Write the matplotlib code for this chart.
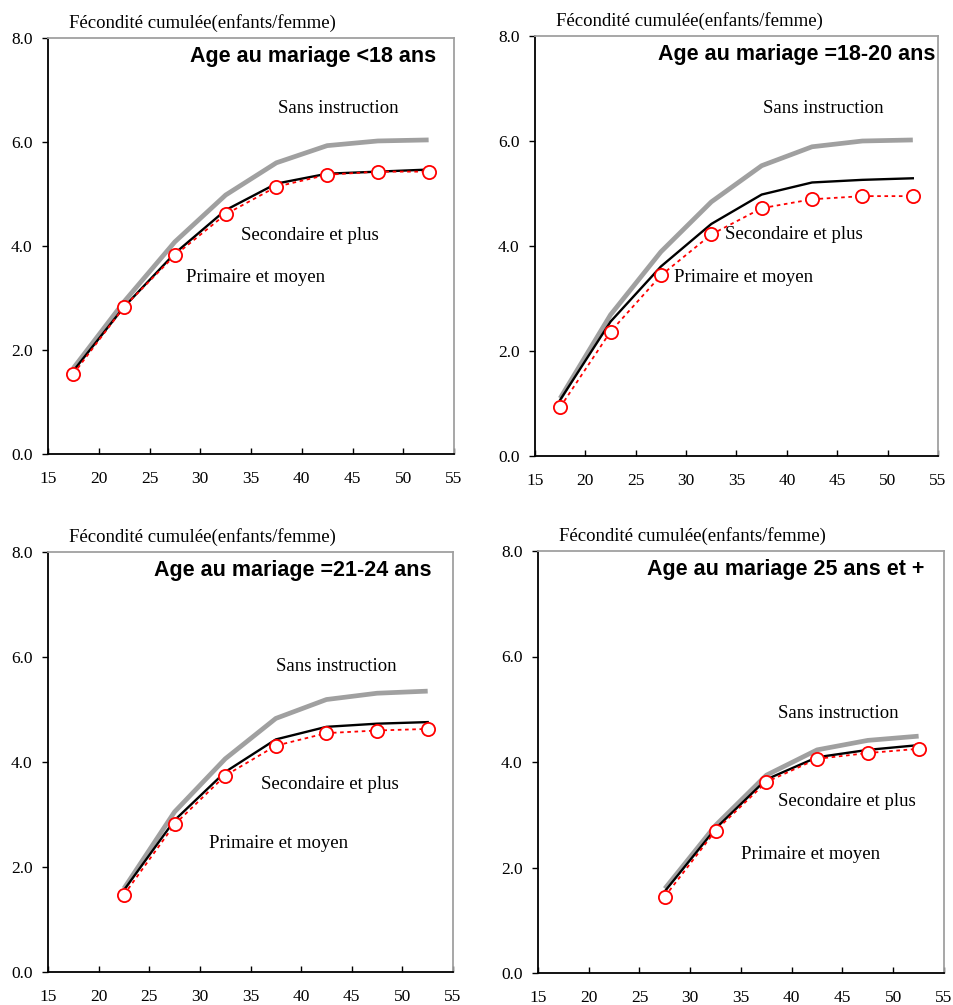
import matplotlib
matplotlib.use('Agg')
import matplotlib.pyplot as plt

# groupes d'age (centres des intervalles quinquennaux)
ages_18 = [17.5, 22.5, 27.5, 32.5, 37.5, 42.5, 47.5, 52.5]
ages_21 = [22.5, 27.5, 32.5, 37.5, 42.5, 47.5, 52.5]
ages_25 = [27.5, 32.5, 37.5, 42.5, 47.5, 52.5]

# Age au mariage <18 ans
sans_lt18 = [1.65, 2.93, 4.08, 4.98, 5.60, 5.93, 6.02, 6.04]
prim_lt18 = [1.60, 2.83, 3.86, 4.69, 5.20, 5.39, 5.43, 5.47]
sec_lt18 = [1.54, 2.83, 3.82, 4.61, 5.14, 5.37, 5.43, 5.43]

# Age au mariage =18-20 ans
sans_18_20 = [1.10, 2.69, 3.89, 4.84, 5.53, 5.89, 6.00, 6.02]
prim_18_20 = [1.07, 2.56, 3.61, 4.42, 4.98, 5.21, 5.26, 5.29]
sec_18_20 = [0.93, 2.37, 3.44, 4.22, 4.72, 4.89, 4.95, 4.95]

# Age au mariage =21-24 ans
sans_21_24 = [1.59, 3.05, 4.06, 4.83, 5.19, 5.31, 5.35]
prim_21_24 = [1.56, 2.89, 3.81, 4.43, 4.67, 4.73, 4.76]
sec_21_24 = [1.47, 2.81, 3.74, 4.31, 4.55, 4.60, 4.63]

# Age au mariage 25 ans et +
sans_25p = [1.60, 2.80, 3.75, 4.23, 4.41, 4.49]
prim_25p = [1.55, 2.74, 3.67, 4.09, 4.23, 4.32]
sec_25p = [1.45, 2.70, 3.62, 4.06, 4.17, 4.25]

titles = ['Age au mariage <18 ans', 'Age au mariage =18-20 ans',
          'Age au mariage =21-24 ans', 'Age au mariage 25 ans et +']
ylabel = 'Fécondité cumulée(enfants/femme)'

SERIF = 'Liberation Serif'
SANS = 'Liberation Sans'
GRAY = '#a0a0a0'


def draw_panel(ax, ages, sans, prim, sec, title, title_x, lbl_pos):
    ax.plot(ages, sans, color=GRAY, linewidth=3.4, solid_capstyle='butt', zorder=2)
    ax.plot(ages, prim, color='black', linewidth=1.7, zorder=3)
    ax.plot(ages, sec, color='red', linewidth=1.3, linestyle=(0, (2, 2)),
            marker='o', markersize=9.5, markerfacecolor='white',
            markeredgecolor='red', markeredgewidth=1.3, zorder=4)

    ax.set_xlim(15, 55)
    ax.set_ylim(0, 8)
    ax.set_xticks(range(15, 60, 5))
    ax.set_yticks([0, 2, 4, 6, 8])
    ax.set_yticklabels(['0.0', '2.0', '4.0', '6.0', '8.0'])
    ax.tick_params(axis='x', direction='in', length=4, width=1, pad=12,
                   labelsize=12.5)
    ax.tick_params(axis='y', direction='out', length=4, width=1, pad=7,
                   labelsize=12.5)
    for lab in ax.get_xticklabels() + ax.get_yticklabels():
        lab.set_fontfamily(SERIF)

    for side in ['left', 'bottom']:
        ax.spines[side].set_color('black')
        ax.spines[side].set_linewidth(1.3)
    for side in ['top', 'right']:
        ax.spines[side].set_color(GRAY)
        ax.spines[side].set_linewidth(1.3)

    ax.text(0.052, 1.036, ylabel, transform=ax.transAxes, ha='left',
            va='center', fontsize=13.5, family=SERIF)
    ax.text(title_x, 7.65, title, ha='right', va='center', fontsize=15.5,
            fontweight='bold', family=SANS)

    names = ['Sans instruction', 'Secondaire et plus', 'Primaire et moyen']
    for name, (x, y) in zip(names, lbl_pos):
        ax.text(x, y, name, ha='left', va='center', fontsize=13.5, family=SERIF)


fig = plt.figure(figsize=(9.54, 10.05), dpi=100)
W, H = 954, 1005


def box(l, r, t, b):
    return [l / W, 1 - b / H, (r - l) / W, (b - t) / H]


ax1 = fig.add_axes(box(48, 454, 38, 454))
ax2 = fig.add_axes(box(535, 938, 36, 456))
ax3 = fig.add_axes(box(48, 453, 552, 972))
ax4 = fig.add_axes(box(538, 944, 551, 973))

draw_panel(ax1, ages_18, sans_lt18, prim_lt18, sec_lt18, titles[0], 53.2,
           [(37.7, 6.64), (34.0, 4.21), (28.6, 3.39)])
draw_panel(ax2, ages_18, sans_18_20, prim_18_20, sec_18_20, titles[1], 54.7,
           [(37.6, 6.62), (33.9, 4.21), (28.8, 3.40)])
draw_panel(ax3, ages_21, sans_21_24, prim_21_24, sec_21_24, titles[2], 52.9,
           [(37.5, 5.82), (36.0, 3.57), (30.9, 2.44)])
draw_panel(ax4, ages_25, sans_25p, prim_25p, sec_25p, titles[3], 53.1,
           [(38.6, 4.92), (38.6, 3.25), (35.0, 2.25)])

plt.savefig('out.png', dpi=100)
plt.close()
